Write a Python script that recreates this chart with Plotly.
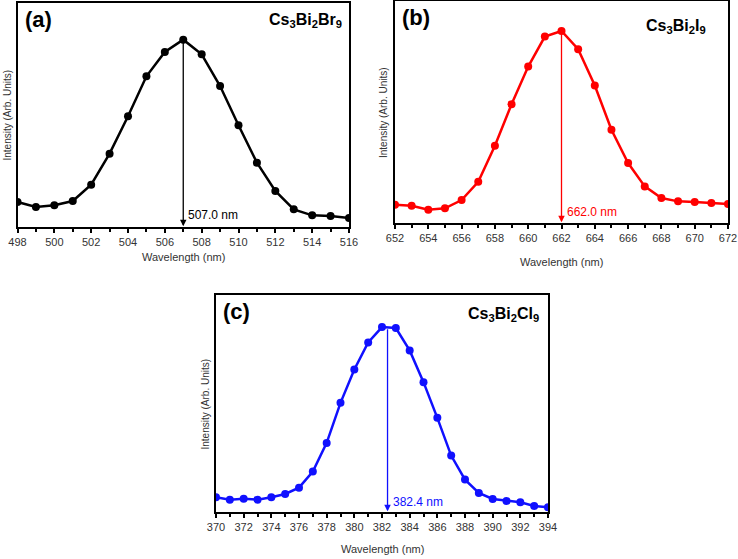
import plotly.graph_objects as go

# ---------------- data ----------------
wl_a = list(range(498, 517))
int_a = [75, 60, 65, 78, 127, 220, 332, 452, 525, 562, 518, 423, 305, 193, 108, 53, 35, 33, 27]
peak_a = 507.0

wl_b = list(range(652, 673))
int_b = [55, 52, 40, 44, 69, 124, 232, 357, 470, 560, 577, 522, 413, 280, 180, 110, 75, 65, 63, 60, 57]
peak_b = 662.0

wl_c = list(range(370, 395))
int_c = [44, 37, 40, 37, 44, 54, 73, 121, 207, 327, 427, 508, 554, 551, 484, 389, 282, 169, 97, 57, 39, 33, 29, 18, 14]
peak_c = 382.4

panels = [
    dict(x=wl_a, y=int_a, peak=peak_a, peakval=562, color="#000000", label="(a)",
         formula="Cs<sub>3</sub>Bi<sub>2</sub>Br<sub>9</sub>", xr=[498, 516], yr=[0, 672],
         dx=[17.5/738, 349/738], dy=[1-227/559, 1-3/559], ticks=[498, 516], lab_y=35, tip=2,
         fr=5, ft=6, tt=30),
    dict(x=wl_b, y=int_b, peak=peak_b, peakval=577, color="#ff0000", label="(b)",
         formula="Cs<sub>3</sub>Bi<sub>2</sub>I<sub>9</sub>", xr=[652, 672], yr=[0, 667],
         dx=[395/738, 728/738], dy=[1-223/559, 1-1/559], ticks=[652, 672], lab_y=33, tip=2,
         fr=20, ft=14, tt=39),
    dict(x=wl_c, y=int_c, peak=peak_c, peakval=552, color="#1010ff", label="(c)",
         formula="Cs<sub>3</sub>Bi<sub>2</sub>Cl<sub>9</sub>", xr=[370, 394], yr=[0, 650],
         dx=[216/738, 548/738], dy=[1-512/559, 1-295/559], ticks=[370, 394], lab_y=30, tip=2,
         fr=7, ft=8, tt=37),
]

fig = go.Figure()
annotations = []
font_fam = "Liberation Sans, Arial, sans-serif"

for i, p in enumerate(panels):
    n = "" if i == 0 else str(i + 1)
    xa, ya = "x" + n, "y" + n
    fig.add_trace(go.Scatter(x=p["x"], y=p["y"], mode="lines+markers",
                             line=dict(color=p["color"], width=2.5),
                             marker=dict(color=p["color"], size=8),
                             xaxis=xa, yaxis=ya, showlegend=False))
    fig.update_layout(**{
        "xaxis" + n: dict(domain=p["dx"], range=p["xr"], anchor=ya, showline=True, mirror=True,
                          linecolor="black", linewidth=2, ticks="outside", ticklen=4, tickwidth=1.5,
                          tickcolor="black", dtick=2, tick0=p["ticks"][0], showgrid=False, zeroline=False,
                          tickfont=dict(size=11, color="#333", family=font_fam),
                          minor=dict(ticks="outside", ticklen=3, tickwidth=1.5, dtick=1, tickcolor="black"),
                          fixedrange=True, automargin=False),
        "yaxis" + n: dict(domain=p["dy"], range=p["yr"], anchor=xa, showline=True, mirror=True,
                          linecolor="black", linewidth=2, ticks="", showticklabels=False,
                          showgrid=False, zeroline=False, fixedrange=True, automargin=False),
    })
    xd0, xd1 = p["dx"]
    yd0, yd1 = p["dy"]
    # arrow
    annotations.append(dict(x=p["peak"], y=p["tip"], ax=p["peak"], ay=p["peakval"],
                            xref=xa, yref=ya, axref=xa, ayref=ya, showarrow=True,
                            arrowhead=2, arrowsize=1, arrowwidth=1.3, arrowcolor=p["color"], text=""))
    annotations.append(dict(x=p["peak"], y=p["lab_y"], xref=xa, yref=ya, text=f"{p['peak']:.1f} nm",
                            showarrow=False, xanchor="left", xshift=3, yanchor="middle",
                            font=dict(size=12, color=p["color"], family=font_fam)))
    # panel label
    annotations.append(dict(x=xd0 + 5/738, y=yd1 - 2/559, xref="paper", yref="paper",
                            text="<b>" + p["label"] + "</b>",
                            showarrow=False, xanchor="left", yanchor="top",
                            font=dict(size=22, color="black", family=font_fam)))
    # formula
    annotations.append(dict(x=xd1 - p["fr"]/738, y=yd1 - p["ft"]/559, xref="paper", yref="paper",
                            text="<b>" + p["formula"] + "</b>",
                            showarrow=False, xanchor="right", yanchor="top",
                            font=dict(size=16, color="black", family=font_fam)))
    # axis titles
    annotations.append(dict(x=(xd0 + xd1) / 2, y=yd0 - p["tt"]/559, xref="paper", yref="paper",
                            text="Wavelength (nm)", showarrow=False, xanchor="center", yanchor="middle",
                            font=dict(size=11, color="#333", family=font_fam)))
    annotations.append(dict(x=xd0 - 11/738, y=(yd0 + yd1) / 2, xref="paper", yref="paper",
                            text="Intensity (Arb. Units)", showarrow=False, textangle=-90,
                            xanchor="center", yanchor="middle",
                            font=dict(size=10, color="#333", family=font_fam)))

fig.update_layout(width=738, height=559, margin=dict(l=0, r=0, t=0, b=0, autoexpand=False),
                  paper_bgcolor="white", plot_bgcolor="white", annotations=annotations,
                  font=dict(family=font_fam))
fig.write_html("out.html")
